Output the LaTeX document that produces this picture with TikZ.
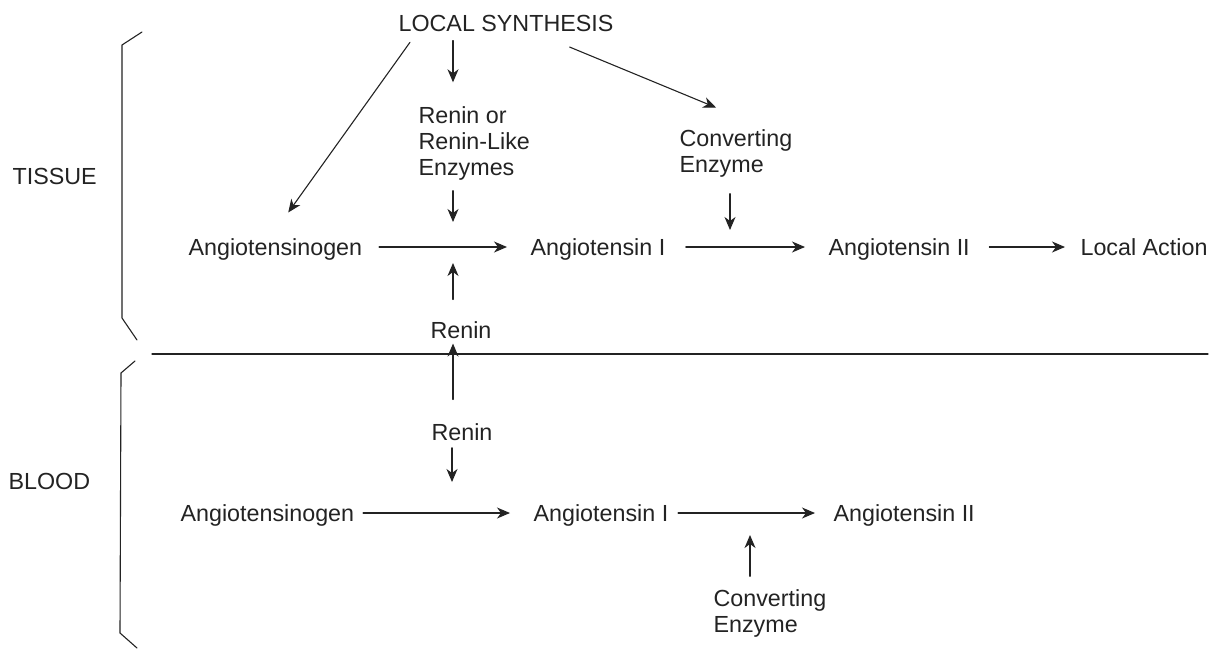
\documentclass[tikz,border=0pt]{standalone}
\usepackage{fontspec}
\setmainfont{Liberation Sans}
\usepackage{xcolor}
\definecolor{inkgray}{RGB}{35,35,35}
\usepackage{tikz}
\usetikzlibrary{arrows.meta}

\begin{document}
\begin{tikzpicture}[x=1pt,y=-1pt,line width=1.1pt,line cap=round]
	\tikzstyle{lbl}=[inner sep=0pt,text=inkgray,font=\fontsize{23.3}{26}\selectfont,text height=16.5pt,text depth=0pt];
	\tikzstyle{blk}=[inner sep=0pt,text=inkgray,font=\fontsize{23.3}{26}\selectfont,align=left];
	\tikzstyle{arr}=[draw=inkgray,-{Stealth[length=13pt,width=11pt,inset=4pt]}];
	\tikzstyle{brk}=[draw=inkgray];
	\useasboundingbox (0,0) rectangle (1225,648);
	% brackets and the tissue/blood line
	\draw[brk] (142,32) -- (122,45) -- (122,318) -- (137,340);
	\draw[brk] (135,361) -- (121,373) -- (120,633) -- (137,648);
	\draw[brk] (152,354) -- (1208,354);
	% labels
	\node[lbl,anchor=west] (ls) at (398,23) {LOCAL SYNTHESIS};
	\node[blk,anchor=west] (re) at (418,143) {Renin or\\Renin-Like\\Enzymes};
	\node[blk,anchor=west] (cv1) at (679,153) {Converting\\Enzyme};
	\node[lbl,anchor=west] (tis) at (12,176) {TISSUE};
	\node[lbl,anchor=west] (ag1) at (188,247) {Angiotensinogen};
	\node[lbl,anchor=west] (ai1) at (530,247) {Angiotensin I};
	\node[lbl,anchor=west] (aii1) at (828,247) {Angiotensin II};
	\node[lbl,anchor=west] (la) at (1080,247) {Local Action};
	\node[lbl] (rn1) at (461,330) {Renin};
	\node[lbl] (rn2) at (462,432) {Renin};
	\node[lbl,anchor=west] (bl) at (8,481) {BLOOD};
	\node[lbl,anchor=west] (ag2) at (180,513) {Angiotensinogen};
	\node[lbl,anchor=west] (ai2) at (533,513) {Angiotensin I};
	\node[lbl,anchor=west] (aii2) at (833,513) {Angiotensin II};
	\node[blk,anchor=west] (cv2) at (713,613) {Converting\\Enzyme};
	% where the enzymes act
	\coordinate (rx1) at (453,247);
	\coordinate (cx1) at (730,247);
	\coordinate (rx2) at (452,513);
	\coordinate (cx2) at (750,513);
	% tissue
	\draw[arr,shorten <=13pt,shorten >=31.6pt] ([xshift=19.5pt]ls.south west) -- ([xshift=-5.5pt]ag1.north);
	\draw[arr,shorten <=8.75pt,shorten >=23.3pt] (ls.south -| rx1) -- (re.north -| rx1);
	\draw[arr,shorten <=40pt,shorten >=55pt] ([xshift=26.7pt]ls.south) -- ([xshift=31pt]cv1.north);
	\draw[arr,shorten <=10.3pt,shorten >=25pt] (re.south -| rx1) -- (rx1);
	\draw[arr,shorten <=16.3pt,shorten >=17pt] (cv1.south -| cx1) -- (cx1);
	\draw[arr,shorten <=16.4pt,shorten >=23pt] (ag1) -- (ai1);
	\draw[arr,shorten <=20pt,shorten >=23pt] (ai1) -- (aii1);
	\draw[arr,shorten <=19pt,shorten >=15pt] (aii1) -- (la);
	\draw[arr,shorten <=21.75pt,shorten >=16pt] (rn1.north -| rx1) -- (rx1);
	\draw[arr,shorten <=23.75pt,shorten >=4.75pt] (rn2.north -| rx1) -- (rn1.south -| rx1);
	% blood
	\draw[arr,shorten <=7pt,shorten >=31pt] (rn2.south -| rx2) -- (rx2);
	\draw[arr,shorten <=8.4pt,shorten >=23pt] (ag2) -- (ai2);
	\draw[arr,shorten <=9.3pt,shorten >=18pt] (ai2) -- (aii2);
	\draw[arr,shorten <=12.3pt,shorten >=22pt] (cv2.north -| cx2) -- (cx2);
\end{tikzpicture}
\end{document}
